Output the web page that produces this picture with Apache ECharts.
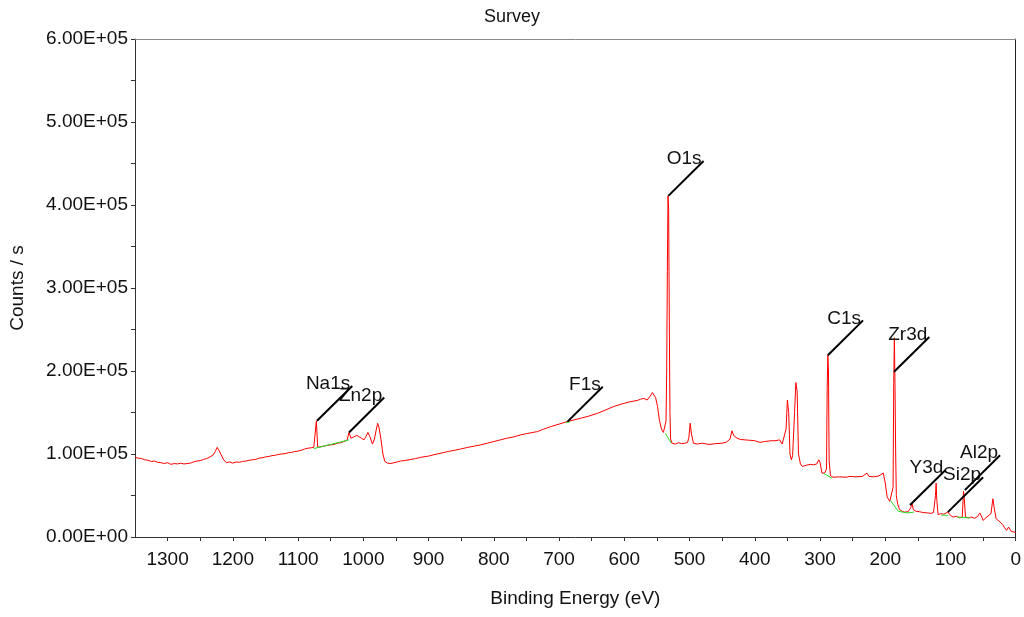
<!DOCTYPE html>
<html>
<head>
<meta charset="utf-8">
<title>Survey</title>
<script src="https://cdn.jsdelivr.net/npm/echarts@6/dist/echarts.min.js"></script>
<style>
  html, body { margin: 0; padding: 0; background: #fff; }
  #chart { width: 1024px; height: 617px; }
</style>
</head>
<body>
<div id="chart"></div>
<script>
// spectrum, [binding energy (eV), counts / s]
var spectrum = [
  [1350, 96000], [1345, 95000], [1340, 94500], [1335, 93000], [1330, 92500], [1325, 91000],
  [1320, 91500], [1315, 90000], [1310, 89500], [1305, 88500], [1300, 89500], [1295, 87500],
  [1290, 88500], [1285, 88000], [1280, 89000], [1275, 88000], [1270, 88500], [1265, 89000],
  [1260, 90500], [1255, 91500], [1250, 92000], [1245, 93500], [1240, 94500], [1235, 96500],
  [1230, 99000], [1227, 103000], [1224, 108000], [1221, 104000], [1218, 99000], [1214, 93000],
  [1210, 89500], [1205, 90500], [1200, 89000], [1195, 90500], [1190, 90000], [1185, 91000],
  [1180, 91500], [1175, 92500], [1170, 93000], [1165, 93500], [1160, 95000], [1155, 95500],
  [1150, 96500], [1145, 97000], [1140, 98000], [1135, 98500], [1130, 99500], [1125, 100000],
  [1120, 100500], [1115, 101500], [1110, 102000], [1105, 103000], [1100, 103500], [1095, 104500],
  [1090, 106000], [1085, 107000], [1080, 107500], [1076, 108000], [1073, 107500], [1072, 140000],
  [1071, 139000], [1070, 108000], [1066, 108500], [1060, 109500], [1055, 110500], [1050, 111000],
  [1045, 111500], [1040, 113000], [1035, 113500], [1030, 115000], [1025, 116500], [1023, 118000],
  [1022, 126000], [1021, 124000], [1019, 119000], [1015, 120500], [1010, 122500], [1007, 123500],
  [1003, 119000], [999, 117000], [996, 121000], [993, 126000], [990, 121000], [986, 112000],
  [983, 118000], [980, 130000], [978, 137000], [976, 132000], [973, 118000], [970, 100000],
  [967, 91000], [963, 89000], [958, 88500], [953, 89500], [948, 90500], [943, 91500],
  [938, 92000], [930, 93000], [920, 94500], [912, 96000], [900, 97500], [890, 99500],
  [881, 101000], [870, 103000], [860, 104500], [851, 106000], [840, 108000], [830, 109500],
  [820, 111000], [810, 113000], [800, 115000], [790, 117000], [780, 119000], [770, 120500],
  [759, 123000], [750, 124500], [740, 126000], [733, 127000], [725, 129500], [713, 133000],
  [700, 136000], [690, 138500], [687, 139000], [680, 140500], [667, 143000], [655, 145500],
  [641, 149000], [630, 152500], [617, 157000], [605, 160000], [591, 163000], [580, 164500],
  [575, 166000], [570, 167000], [565, 165000], [560, 170000], [557, 174000], [555, 175000],
  [552, 168000], [549, 157000], [546, 140000], [543, 130000], [540, 126000], [537, 125000],
  [536, 140000], [535, 200000], [534, 320000], [533, 411000], [532, 395000], [531, 260000],
  [530, 150000], [529, 118000], [527, 113000], [522, 112000], [517, 113500], [512, 112500],
  [507, 113000], [503, 114000], [501, 120000], [499, 137000], [497, 124000], [494, 113000],
  [488, 112000], [480, 113000], [470, 111500], [460, 112500], [450, 113000], [443, 114500],
  [438, 118000], [435, 128000], [432, 122000], [427, 119000], [422, 117500], [415, 117000],
  [407, 116500], [400, 116000], [392, 114000], [385, 115000], [375, 116000], [369, 116000],
  [362, 117000], [358, 112000], [356, 110000], [352, 130000], [350, 165000], [348, 150000],
  [346, 100000], [344, 93000], [342, 98000], [339, 150000], [337, 186000], [335, 175000],
  [333, 100000], [330, 88000], [327, 85000], [321, 86500], [315, 87500], [310, 87000],
  [305, 88000], [302, 93000], [300, 90000], [297, 77000], [293, 77000], [290, 82000],
  [289, 180000], [288, 219000], [287, 200000], [286, 92000], [284, 74000], [280, 72000],
  [270, 72500], [260, 72000], [254, 73000], [245, 72500], [235, 73000], [228, 77000],
  [225, 73000], [218, 72500], [210, 73500], [203, 77000], [200, 65000], [197, 48000],
  [193, 43000], [190, 42000], [188, 60000], [187, 185000], [186, 240000], [185, 180000],
  [184, 100000], [183, 50000], [181, 40000], [178, 33000], [174, 31000], [170, 30000],
  [165, 30500], [161, 35000], [159, 41000], [157, 33000], [153, 31000], [148, 30500],
  [142, 29500], [135, 29000], [130, 28500], [126, 29500], [123, 50000], [122, 65000],
  [121, 45000], [119, 27000], [115, 28000], [110, 27500], [104, 30000], [100, 26000],
  [96, 24000], [91, 25000], [86, 23000], [82, 24000], [80, 55000], [79, 48000],
  [77, 24000], [73, 23000], [68, 24000], [63, 22500], [58, 25000], [55, 29000],
  [52, 24000], [50, 20000], [46, 23000], [43, 24000], [38, 28000], [36, 40000],
  [35, 46000], [33, 35000], [30, 22000], [28, 20000], [24, 18000], [20, 15000],
  [17, 11000], [14, 8000], [11, 12000], [9, 12000], [7, 7000], [5, 5000],
  [3, 6000], [1, 6000], [0, 5500]
];

// fitted backgrounds under the peaks (green), null splits the pieces
var backgrounds = [
  [1076, 106500], [1022, 117000], null,
  [690, 137500], [683, 139000], null,
  [537, 125000], [528, 113000], null,
  [294, 76500], [282, 71000], null,
  [192, 44000], [180, 31000], [166, 29000], [156, 30000], null,
  [114, 26500], [104, 26000], null,
  [90, 24000], [70, 23000]
];

// peak labels and where their leader lines start
var peakNames = ['Na1s', 'Zn2p', 'F1s', 'O1s', 'C1s', 'Zr3d', 'Y3d', 'Si2p', 'Al2p'];
var peakBE = [1071, 1022, 687, 532.5, 288, 186.5, 162, 104, 78];
var peakCounts = [140000, 126000, 139000, 411000, 219000, 199000, 38500, 30000, 56500];

var xTicks = { min: 0, max: 1350, step: 50 };
var yTicks = { min: 0, max: 600000, step: 100000 };

var leaderDx = 54;      // eV
var leaderDy = 42000;   // counts

var font = '"Liberation Sans", Arial, sans-serif';

function yFormat(v) {
    if (v === 0) return '0.00E+00';
    return (v / 100000).toFixed(2) + 'E+05';
}

var leaderLines = [];
var labelPoints = [];
for (var i = 0; i < peakNames.length; i++) {
    var x0 = peakBE[i], y0 = peakCounts[i];
    leaderLines.push([{ coord: [x0, y0] }, { coord: [x0 - leaderDx, y0 + leaderDy] }]);
    labelPoints.push({ name: peakNames[i], value: [x0 - leaderDx, y0 + leaderDy] });
}

// top / right frame lines only
function frameAxis(pos, color, range) {
    return {
        type: 'value',
        position: pos,
        min: range.min, max: range.max,
        inverse: pos === 'top',
        axisLine: { show: true, onZero: false, lineStyle: { color: color, width: 1 } },
        axisTick: { show: false },
        axisLabel: { show: false },
        splitLine: { show: false }
    };
}

var chart = echarts.init(document.getElementById('chart'));

var option = {
    animation: false,
    backgroundColor: '#fff',
    textStyle: { fontFamily: font },
    title: {
        text: 'Survey',
        left: 'center',
        top: 3,
        textStyle: { fontFamily: font, fontSize: 18, fontWeight: 'normal', color: '#111' }
    },
    grid: { left: 135, right: 7, top: 39, bottom: 80 },
    xAxis: [{
        type: 'value',
        inverse: true,
        min: xTicks.min, max: xTicks.max, interval: xTicks.step,
        name: 'Binding Energy (eV)',
        nameLocation: 'middle',
        nameGap: 52,
        nameTextStyle: { fontFamily: font, fontSize: 19, color: '#111' },
        axisLine: { onZero: false, lineStyle: { color: '#333', width: 1 } },
        axisTick: { show: true, length: 4, lineStyle: { color: '#333' } },
        axisLabel: {
            fontFamily: font, fontSize: 19, color: '#111', margin: 13,
            showMaxLabel: false,
            formatter: function (v) { return v % 100 === 0 ? String(v) : ''; }
        },
        splitLine: { show: false }
    }, frameAxis('top', '#888', xTicks)],
    yAxis: [{
        type: 'value',
        min: yTicks.min, max: yTicks.max, interval: yTicks.step,
        name: 'Counts / s',
        nameLocation: 'middle',
        nameGap: 108,
        nameTextStyle: { fontFamily: font, fontSize: 19, color: '#111' },
        axisLine: { show: true, onZero: false, lineStyle: { color: '#333', width: 1 } },
        axisTick: { show: true, length: 4, lineStyle: { color: '#333' } },
        minorTick: { show: true, splitNumber: 2, length: 4, lineStyle: { color: '#333' } },
        axisLabel: { fontFamily: font, fontSize: 19, color: '#111', margin: 7, formatter: yFormat },
        splitLine: { show: false }
    }, frameAxis('right', '#222', yTicks)],
    series: [{
        name: 'survey',
        type: 'line',
        data: spectrum,
        showSymbol: false,
        symbol: 'none',
        lineStyle: { color: '#ff0000', width: 1 },
        silent: true,
        z: 2
    }, {
        name: 'background',
        type: 'line',
        data: backgrounds,
        connectNulls: false,
        showSymbol: false,
        symbol: 'none',
        lineStyle: { color: '#22dd22', width: 1 },
        silent: true,
        z: 3
    }, {
        name: 'labels',
        type: 'scatter',
        data: labelPoints,
        symbolSize: 0,
        itemStyle: { opacity: 1 },
        silent: true,
        z: 4,
        label: {
            show: true,
            position: 'left',
            distance: 0,
            offset: [-2, -2],
            formatter: '{b}',
            fontFamily: font,
            fontSize: 19,
            color: '#111'
        },
        markLine: {
            silent: true,
            symbol: ['none', 'none'],
            label: { show: false },
            lineStyle: { color: '#000', width: 2, type: 'solid' },
            emphasis: { disabled: true },
            data: leaderLines
        }
    }]
};

chart.setOption(option);
</script>
</body>
</html>
